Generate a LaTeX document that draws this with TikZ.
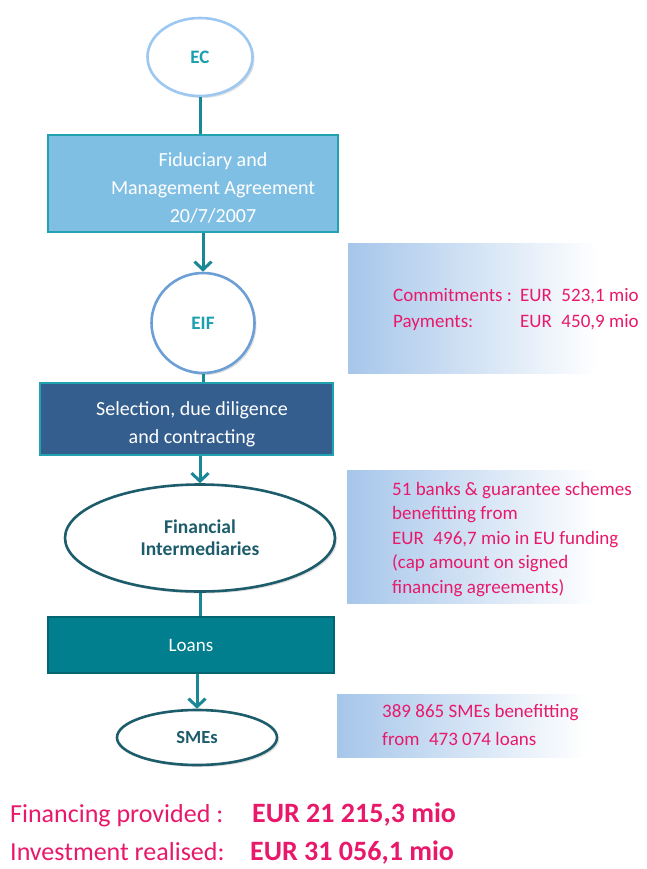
\documentclass[tikz,border=0pt]{standalone}
\usepackage{fontspec}
\setmainfont{Carlito}
\usetikzlibrary{shapes.geometric,arrows.meta,shadows}
\definecolor{conn}{HTML}{1A8797}
\definecolor{ecline}{HTML}{9CC8F2}
\definecolor{eifline}{HTML}{6C9FD6}
\definecolor{ectext}{HTML}{1A9FB0}
\definecolor{fidfill}{HTML}{80BFE4}
\definecolor{boxline}{HTML}{22A2B0}
\definecolor{selfill}{HTML}{345E8E}
\definecolor{loanfill}{HTML}{027F8E}
\definecolor{darkteal}{HTML}{1D5C6B}
\definecolor{infoblue}{HTML}{A6C6EA}
\definecolor{pink}{HTML}{E8196B}
\tikzset{
  bubble/.style={ellipse, draw, line width=2.6pt, fill=white, inner sep=0pt,
    drop shadow={opacity=0.25, shadow xshift=2pt, shadow yshift=-2pt}},
  flowbox/.style={rectangle, draw=boxline, line width=1.2pt, inner sep=0pt},
  infobox/.style={rectangle, inner sep=0pt, left color=infoblue, right color=white, anchor=north west},
  infotext/.style={anchor=base west, inner sep=0pt, text=pink, font=\fontsize{19}{22}\selectfont},
  boxtext/.style={text=white, align=center, inner sep=0pt, font=\fontsize{20}{28}\selectfont},
  conline/.style={draw=conn, line width=3pt},
  conarrow/.style={conline, -{Straight Barb[length=8pt,width=17pt,line width=3pt]}},
  bottomtext/.style={anchor=base west, inner sep=0pt, text=pink, font=\fontsize{26}{28}\selectfont},
  bottombold/.style={anchor=base west, inner sep=0pt, text=pink, font=\fontsize{28}{30}\selectfont\bfseries}
}
\begin{document}
\begin{tikzpicture}[x=1pt,y=-1pt]
\useasboundingbox[fill=white] (0,0) rectangle (646,869);

% info boxes
\node[infobox, minimum width=250pt, minimum height=130pt] (info1) at (348,243) {};
\node[infobox, minimum width=250pt, minimum height=133pt] (info2) at (347,470) {};
\node[infobox, minimum width=250pt, minimum height=63pt] (info3) at (337,694) {};

% flow nodes
\node[bubble, draw=ecline, minimum width=105pt, minimum height=78pt,
  font=\fontsize{19}{20}\selectfont\bfseries, text=ectext] (ec) at (200,57) {EC};
\node[flowbox, fill=fidfill, minimum width=290pt, minimum height=97pt] (fid) at (193,183.5) {};
\node[boxtext] (fidt) at (213,188) {Fiduciary and\\Management Agreement\\20/7/2007};
\node[bubble, draw=eifline, minimum width=103pt, minimum height=100pt,
  font=\fontsize{19}{20}\selectfont\bfseries, text=ectext] (eif) at (203,323) {EIF};
\node[flowbox, fill=selfill, minimum width=293pt, minimum height=72pt] (sel) at (186.5,419) {};
\node[boxtext] (selt) at (192,424) {Selection, due diligence\\and contracting};
\node[bubble, draw=darkteal, minimum width=270pt, minimum height=107pt, align=center,
  font=\fontsize{19.5}{22}\selectfont\bfseries, text=darkteal] (fi) at (200,538) {Financial\\Intermediaries};
\node[flowbox, draw=loanfill!80!black, fill=loanfill, minimum width=286pt, minimum height=56pt,
  font=\fontsize{19}{20}\selectfont, text=white] (loans) at (191,645) {Loans};
\node[bubble, draw=darkteal, minimum width=160pt, minimum height=55pt,
  font=\fontsize{18.5}{20}\selectfont\bfseries, text=darkteal] (smes) at (197,737.5) {SMEs};

% connectors
\draw[conline] (ec.south) -- (ec.south |- fid.north);
\draw[conarrow] (fid.south -| eif.north) -- (eif.north);
\draw[conline] (eif.south) -- (eif.south |- sel.north);
\draw[conarrow] (sel.south -| fi.north) -- (fi.north);
\draw[conline] (fi.south) -- (fi.south |- loans.north);
\draw[conarrow] (loans.south -| smes.north) -- (smes.north);

% info texts
\node[infotext] (c1a) at (393,301) {Commitments :};
\node[infotext] (c1b) at (520,301) {EUR\enspace 523,1 mio};
\node[infotext] (c2a) at (393,327) {Payments:};
\node[infotext] (c2b) at (520,327) {EUR\enspace 450,9 mio};

\node[infotext] (b1) at (392,495) {51 banks \& guarantee schemes};
\node[infotext] (b2) at (392,519.5) {benefitting from};
\node[infotext] (b3) at (392,544) {EUR\enspace 496,7 mio in EU funding};
\node[infotext] (b4) at (392,568.5) {(cap amount on signed};
\node[infotext] (b5) at (392,593) {financing agreements)};

\node[infotext] (s1) at (382,717) {389 865 SMEs benefitting};
\node[infotext] (s2) at (382,745) {from\enspace 473 074 loans};

% bottom figures
\node[bottomtext] (fp) at (10,822) {Financing provided :};
\node[bottombold] (fpv) at (252,822) {EUR 21 215,3 mio};
\node[bottomtext] (ir) at (10,860) {Investment realised:};
\node[bottombold] (irv) at (250,860) {EUR 31 056,1 mio};
\end{tikzpicture}
\end{document}
